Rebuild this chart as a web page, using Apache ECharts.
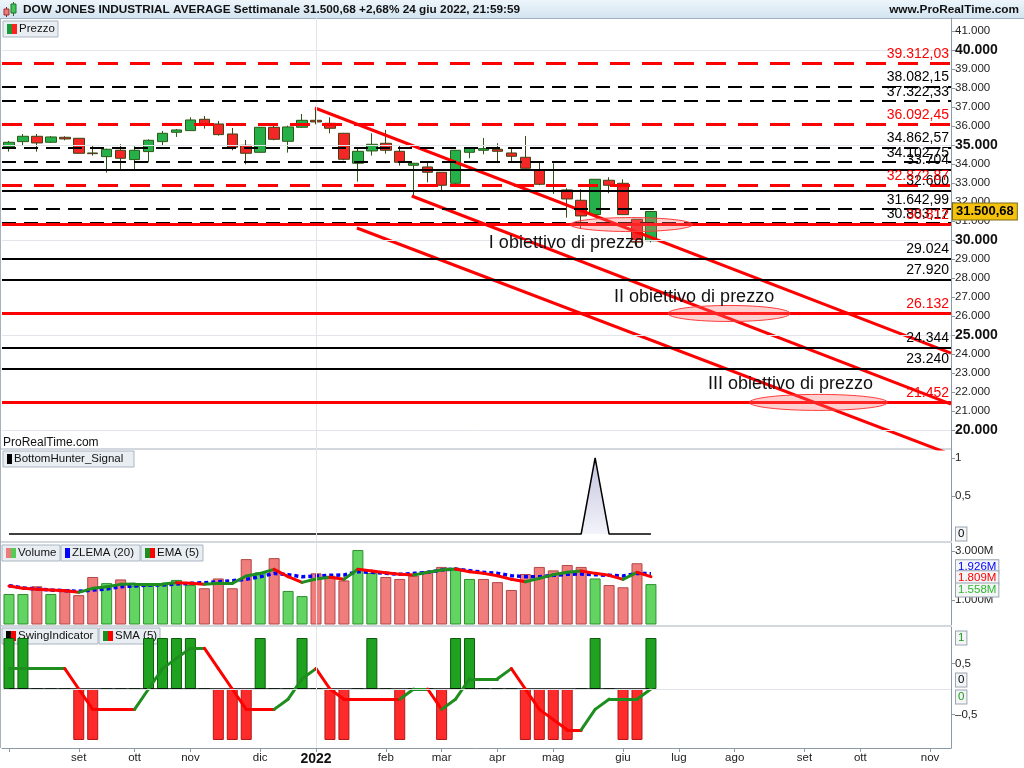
<!DOCTYPE html>
<html>
<head>
<meta charset="utf-8">
<script src="https://cdn.jsdelivr.net/npm/echarts@6.0.0/dist/echarts.min.js"></script>
<style>
html,body{margin:0;padding:0;background:#ffffff;}
#chart{width:1024px;height:768px;}
</style>
</head>
<body>
<div id="chart"></div>
<script>
// ================= DATA =================
const firstWeek = [2021, 7, 2];          // Monday 2 Aug 2021 (month 0-based)
const weekCount = 68;                     // weeks shown on the time axis
const monthNames = ['gen','feb','mar','apr','mag','giu','lug','ago','set','ott','nov','dic'];

const openP  = [34897,35178,35458,35143,35406,35353,34580,34388,34722,34231,34652,35178,35669,35757,36353,36107,35581,34985,34616,35932,35195,35932,36300,36142,35616,34038,34687,35090,34669,33932,33845,33564,32985,34616,34722,34774,34581,34353,33669,32898,32634,32091,31336,33143,32985,31090,29960];
const closeP = [35143,35458,35107,35423,35318,34564,34545,34774,34301,34722,35248,35616,35792,36318,36055,35546,34880,34564,35932,35300,35950,36300,36213,35880,34248,34669,35037,34722,34090,34038,33564,32880,34722,34827,34810,34669,34406,33774,32932,32910,32161,31266,33196,32880,31336,29888,31500.68];
const lowP   = [34652,34967,34652,35107,35248,34546,34441,33547,33739,33739,34090,34967,35423,35739,35862,35493,34722,33985,34599,35248,34599,35914,36090,35616,34196,33073,34441,34546,33915,32284,33038,32634,32898,34301,34511,34125,34090,33757,32880,32424,31178,30582,31336,32459,31336,29653,29880];
const highP  = [35213,35581,35581,35476,35458,35370,34950,34809,35037,34932,35300,35739,35844,36458,36528,36265,35897,35265,35950,36142,36020,36634,36967,36458,35634,34792,35616,35792,35002,34055,34160,33564,34739,34845,35371,35090,34792,35476,34090,34038,32722,32669,33196,33301,33196,31090,31530];

// volume in millions of shares
const volume = [1245,1245,1560,1245,1450,1200,1940,1690,1840,1580,1580,1640,1820,1610,1480,1880,1480,2670,2130,2710,1370,1160,2090,1990,1800,3040,2100,1940,1860,1990,2180,2350,2310,1860,1860,1730,1410,2060,2350,2210,2430,2350,1880,1610,1520,2500,1650];
const zlema20 = [1585,1490,1449,1408,1381,1354,1408,1449,1544,1571,1612,1612,1653,1680,1707,1748,1789,1844,1952,2088,2034,1952,1980,2007,2020,2156,2129,2088,2048,2088,2129,2224,2265,2197,2129,2088,1993,1952,1952,2007,2048,2061,2034,2007,1980,2088,2075];
const ema5 = [1571,1476,1435,1408,1381,1313,1476,1544,1639,1653,1653,1653,1707,1680,1639,1680,1680,1980,2088,2252,1952,1721,1857,1925,1844,2252,2184,2116,2048,2020,2129,2224,2265,2156,2088,1993,1844,1748,1884,2034,2129,2184,2088,2007,1844,2129,1952];
const volumeLastLabels = ['1.926M','1.809M','1.558M'];   // ZLEMA, EMA, Volume

const bottomHunter = [0,0,0,0,0,0,0,0,0,0, 0,0,0,0,0,0,0,0,0,0, 0,0,0,0,0,0,0,0,0,0, 0,0,0,0,0,0,0,0,0,0, 0,0,1,0,0,0,0];

const swing = [1,1,0,0,0,-1,-1,0,0,0, 1,1,1,1,0,-1,-1,-1,1,0, 0,1,0,-1,-1,0,1,0,-1,0, 0,-1,1,1,0,0,0,-1,-1,-1, -1,0,1,0,-1,-1,1];
const swingSma5 = [0.4,0.4,0.4,0.4,0.4,0,-0.4,-0.4,-0.4,-0.4, 0,0.4,0.6,0.8,0.8,0.4,0,-0.4,-0.4,-0.4, -0.2,0.2,0.4,0,-0.2,-0.2,-0.2,-0.2,-0.2,0, 0,-0.4,-0.2,0.2,0.2,0.2,0.4,0,-0.4,-0.6, -0.8,-0.8,-0.4,-0.2,-0.2,-0.2,0];

// horizontal levels
const fibRed    = [39312.03, 36092.45, 32872.87];
const fibBlack  = [38082.15, 37322.33, 34862.57, 34102.75, 31642.99, 30883.17];
const levelsBlack = [33704, 32600, 29024, 27920, 24344, 23240];
const targetsRed  = [30812, 26132, 21452];
const targetNames = ['I obiettivo di prezzo', 'II obiettivo di prezzo', 'III obiettivo di prezzo'];
const targetWeeks = [44.6, 51.6, 58.0];

// descending channel: [weekIndex, price] end points
const channelUpper  = [[21.93, 36947], [67.5, 24046]];
const channelMiddle = [[28.86, 32316], [67.5, 21361]];
const channelLower  = [[24.93, 30632], [67.5, 18712]];

const priceTicks = [20000,21000,22000,23000,24000,25000,26000,27000,28000,29000,30000,31000,32000,33000,34000,35000,36000,37000,38000,39000,40000,41000];
const priceGrid  = [20000,25000,30000,35000,40000];
const lastPriceLabel = '31.500,68';
const yearWeek = 22;   // first week of 2022
const titleText = 'DOW JONES INDUSTRIAL AVERAGE Settimanale 31.500,68 +2,68% 24 giu 2022, 21:59:59';

// ================= helpers =================
const FONT = '"Liberation Sans", Arial, sans-serif';
function fmtIt(v, dec) {
  const s = Math.abs(v).toFixed(dec);
  const p = s.split('.');
  const i = p[0].replace(/\B(?=(\d{3})+(?!\d))/g, '.');
  return (v < 0 ? '-' : '') + i + (p[1] ? ',' + p[1] : '');
}
const cats = [];
for (let i = 0; i < weekCount; i++) {
  const d = new Date(firstWeek[0], firstWeek[1], firstWeek[2] + 7 * i);
  cats.push(d.getFullYear() + '-' + (d.getMonth() + 1) + '-' + d.getDate());
}
const dayOf = v => +v.split('-')[2];

function colorSegments(vals, up, down) {
  const out = [];
  let prev = up;
  for (let i = 0; i < vals.length - 1; i++) {
    const d = vals[i + 1] - vals[i];
    const c = d > 0 ? up : (d < 0 ? down : prev);
    prev = c;
    out.push({ coords: [[i, vals[i]], [i + 1, vals[i + 1]]], lineStyle: { color: c } });
  }
  return out;
}

const L = 2, R = 73;
const grids = [
  { left: L, right: R, top: 18, height: 431 },
  { left: L, right: R, top: 449, height: 92 },
  { left: L, right: R, top: 543, height: 82 },
  { left: L, right: R, top: 627, height: 121 }
];
const axisGray = '#8c99a6';
const xAxes = [];
grids.forEach((g, gi) => {
  const last = gi === 3;
  xAxes.push({
    type: 'category', gridIndex: gi, data: cats, boundaryGap: true, position: 'bottom',
    axisLine: { show: last, onZero: false, lineStyle: { color: axisGray } },
    axisTick: { show: last, interval: (i, v) => dayOf(v) <= 7, alignWithLabel: true, length: 4, lineStyle: { color: axisGray } },
    axisLabel: {
      show: last, interval: (i, v) => i > 0 && dayOf(v) <= 7, margin: 4, color: '#222',
      formatter: v => { const p = v.split('-').map(Number); return p[1] === 1 ? '{y|' + p[0] + '}' : '{m|' + monthNames[p[1] - 1] + '}'; },
      rich: { y: { fontWeight: 'bold', fontSize: 14, fontFamily: FONT, color: '#111' }, m: { fontSize: 11.5, fontFamily: FONT, color: '#222' } }
    },
    splitLine: { show: false }
  });
  xAxes.push({ type: 'value', gridIndex: gi, min: -0.5, max: weekCount - 0.5, show: false, axisLine: { onZero: false }, splitLine: { show: false } });
});

const yCommon = {
  type: 'value', position: 'right', splitLine: { show: false },
  axisLine: { show: true, onZero: false, lineStyle: { color: axisGray } }
};
const yAxes = [
  Object.assign({}, yCommon, {
    gridIndex: 0, min: 19000, max: 41684,
    axisTick: { show: true, length: 4, customValues: priceTicks, lineStyle: { color: axisGray } },
    axisLabel: {
      customValues: priceTicks, margin: 4, color: '#222', fontSize: 11.5, fontFamily: FONT,
      formatter: v => v % 5000 === 0 ? '{b|' + fmtIt(v, 0) + '}' : fmtIt(v, 0),
      rich: { b: { fontWeight: 'bold', fontSize: 14, fontFamily: FONT, color: '#111' } }
    }
  }),
  Object.assign({}, yCommon, {
    gridIndex: 1, min: -0.092, max: 1.118,
    axisTick: { show: true, length: 4, customValues: [0.5, 1], lineStyle: { color: axisGray } },
    axisLabel: { customValues: [0.5, 1], margin: 4, color: '#222', fontSize: 11.5, fontFamily: FONT, formatter: v => fmtIt(v, v % 1 ? 1 : 0) }
  }),
  Object.assign({}, yCommon, {
    gridIndex: 2, min: -20, max: 3327,
    axisTick: { show: true, length: 4, customValues: [1000, 3000], lineStyle: { color: axisGray } },
    axisLabel: { customValues: [1000, 3000], margin: 4, color: '#222', fontSize: 11.5, fontFamily: FONT, formatter: v => fmtIt(v, 0) + 'M' }
  }),
  Object.assign({}, yCommon, {
    gridIndex: 3, min: -1.157, max: 1.216,
    axisTick: { show: true, length: 4, customValues: [-0.5, 0.5], lineStyle: { color: axisGray } },
    axisLabel: { customValues: [-0.5, 0.5], margin: 4, color: '#222', fontSize: 11.5, fontFamily: FONT, formatter: v => (v < 0 ? '\u2013' : '') + fmtIt(Math.abs(v), 1) }
  })
];

// ---- level lines
const hLine = (v, color, width, type, text) => ({
  yAxis: v, lineStyle: { color: color, width: width, type: type },
  label: { show: true, formatter: text, color: color, position: 'insideEndTop', fontSize: 14, fontFamily: FONT, distance: 2 }
});
const gridLineStyle = { color: '#e2e6eb', width: 1, type: 'solid' };
const levelData = []
  .concat(priceGrid.map(v => ({ yAxis: v, lineStyle: gridLineStyle, label: { show: false } })))
  .concat([{ xAxis: yearWeek, lineStyle: gridLineStyle, label: { show: false } }])
  .concat(fibBlack.map(v => hLine(v, '#000000', 2, [14, 8], fmtIt(v, 2))))
  .concat(levelsBlack.map(v => hLine(v, '#000000', 2, 'solid', fmtIt(v, 0))))
  .concat(fibRed.map(v => hLine(v, '#ff0000', 3, [20, 12], fmtIt(v, 2))))
  .concat(targetsRed.map(v => hLine(v, '#ff0000', 3, 'solid', fmtIt(v, 0))));

const valueBox = (color) => ({
  show: true, position: 'end', distance: 5, color: color, fontSize: 11.5, fontFamily: FONT,
  backgroundColor: '#f3f5f7', borderColor: '#9aa5b0', borderWidth: 1, padding: [1, 2, 0, 2]
});
const noLine = { color: 'rgba(0,0,0,0)', width: 1, type: 'solid' };
const vLine = { xAxis: yearWeek, lineStyle: gridLineStyle, label: { show: false } };

const volColors = volume.map((v, i) => (i === 0 ? closeP[0] >= openP[0] : closeP[i] >= closeP[i - 1]));

const ellipseSize = [[61, 7], [61, 8], [69, 8]];
const textOffset = [[-65, 18], [-35, -16], [-28, -18]];

const series = [
  // ---------- main price panel
  {
    type: 'candlestick', xAxisIndex: 0, yAxisIndex: 0, z: 2, barWidth: 11,
    data: openP.map((o, i) => [o, closeP[i], lowP[i], highP[i]]),
    itemStyle: { color: '#25b04a', color0: '#f52626', borderColor: '#2a5a16', borderColor0: '#3e4414', borderWidth: 1 }
  },
  {
    type: 'line', xAxisIndex: 1, yAxisIndex: 0, data: [], z: 3,
    markLine: { symbol: ['none', 'none'], silent: true, animation: false, data: levelData }
  },
  ...[channelUpper, channelMiddle, channelLower].map(d => ({
    type: 'line', xAxisIndex: 1, yAxisIndex: 0, data: d, z: 4, symbol: 'none', clip: true,
    lineStyle: { color: '#ff0000', width: 3 }
  })),
  {
    type: 'custom', xAxisIndex: 1, yAxisIndex: 0, z: 5, clip: false,
    data: targetWeeks.map((w, k) => [w, targetsRed[k], k]),
    renderItem: (params, api) => {
      const c = api.coord([api.value(0), api.value(1)]);
      const k = api.value(2);
      const rx = ellipseSize[k][0], ry = ellipseSize[k][1];
      const pts = [];
      for (let a = 0; a < 64; a++) { const t = a / 64 * Math.PI * 2; pts.push([c[0] + rx * Math.cos(t), c[1] + ry * Math.sin(t)]); }
      return {
        type: 'group', children: [
          { type: 'polygon', shape: { points: pts }, style: { fill: 'rgba(255,110,110,0.32)', stroke: '#ff3b3b', lineWidth: 1 } },
          { type: 'text', x: c[0] + textOffset[k][0], y: c[1] + textOffset[k][1],
            style: { text: targetNames[k], fill: '#111', font: '18px ' + FONT, align: 'center', verticalAlign: 'middle' } }
        ]
      };
    }
  },
  {
    type: 'line', xAxisIndex: 1, yAxisIndex: 0, data: [], z: 6,
    markLine: { symbol: ['none', 'none'], silent: true, animation: false,
      data: [{ yAxis: closeP[closeP.length - 1], lineStyle: noLine,
        label: { show: true, position: 'end', distance: 2, formatter: lastPriceLabel, color: '#000', fontWeight: 'bold', fontSize: 13, fontFamily: FONT,
          backgroundColor: '#f4c20d', borderColor: '#7a6a1a', borderWidth: 1, padding: [2, 3, 1, 3] } }] }
  },
  // ---------- BottomHunter panel
  {
    type: 'line', xAxisIndex: 2, yAxisIndex: 1, data: bottomHunter, symbol: 'none',
    lineStyle: { color: '#000', width: 1.5 },
    areaStyle: { color: new echarts.graphic.LinearGradient(0, 0, 0, 1, [{ offset: 0, color: '#aaaad2' }, { offset: 1, color: '#eeeef8' }]) },
    markLine: { symbol: ['none', 'none'], silent: true, animation: false,
      data: [vLine, { yAxis: 0, lineStyle: noLine, label: Object.assign(valueBox('#000'), { formatter: '0' }) }] }
  },
  // ---------- Volume panel
  {
    type: 'bar', xAxisIndex: 4, yAxisIndex: 2, barWidth: 11,
    data: volume.map((v, i) => ({ value: v, itemStyle: volColors[i]
      ? { color: '#62d462', borderColor: '#2f8f2f', borderWidth: 1 }
      : { color: '#f07c7c', borderColor: '#b04848', borderWidth: 1 } })),
    markLine: { symbol: ['none', 'none'], silent: true, animation: false, data: [vLine] }
  },
  {
    type: 'line', xAxisIndex: 4, yAxisIndex: 2, data: zlema20, symbol: 'none', z: 3,
    lineStyle: { color: '#0000ff', width: 3.5, type: [4, 3] }
  },
  {
    type: 'lines', coordinateSystem: 'cartesian2d', xAxisIndex: 5, yAxisIndex: 2, z: 4, polyline: false,
    lineStyle: { width: 3, opacity: 1, cap: 'round' },
    data: colorSegments(ema5, '#1e8e1e', '#ff0000')
  },
  {
    type: 'line', xAxisIndex: 5, yAxisIndex: 2, data: [], z: 6,
    markLine: { symbol: ['none', 'none'], silent: true, animation: false,
      data: [
        { yAxis: zlema20[zlema20.length - 1], lineStyle: noLine, label: Object.assign(valueBox('#0000ff'), { formatter: volumeLastLabels[0], offset: [0, -7] }) },
        { yAxis: ema5[ema5.length - 1], lineStyle: noLine, label: Object.assign(valueBox('#ff0000'), { formatter: volumeLastLabels[1], offset: [0, 1] }) },
        { yAxis: volume[volume.length - 1], lineStyle: noLine, label: Object.assign(valueBox('#2fb82f'), { formatter: volumeLastLabels[2], offset: [0, 6] }) }
      ] }
  },
  // ---------- Swing panel
  {
    type: 'bar', xAxisIndex: 6, yAxisIndex: 3, barWidth: 11,
    data: swing.map(v => ({ value: v, itemStyle: v >= 0
      ? { color: '#1fa21f', borderColor: '#0d5a0d', borderWidth: 1 }
      : { color: '#ff2b2b', borderColor: '#b01818', borderWidth: 1 } })),
    markLine: { symbol: ['none', 'none'], silent: true, animation: false,
      data: [vLine, { yAxis: 0, lineStyle: { color: '#dfe3e8', width: 1, type: 'solid' }, label: { show: false } }] }
  },
  {
    type: 'line', xAxisIndex: 6, yAxisIndex: 3, data: swing.map(() => 0), symbol: 'none', z: 3,
    lineStyle: { color: '#000', width: 1.5 }
  },
  {
    type: 'lines', coordinateSystem: 'cartesian2d', xAxisIndex: 7, yAxisIndex: 3, z: 4, polyline: false,
    lineStyle: { width: 3, opacity: 1, cap: 'round' },
    data: colorSegments(swingSma5, '#1e8e1e', '#ff0000')
  },
  {
    type: 'line', xAxisIndex: 7, yAxisIndex: 3, data: [], z: 6,
    markLine: { symbol: ['none', 'none'], silent: true, animation: false,
      data: [
        { yAxis: swing[swing.length - 1], lineStyle: noLine, label: Object.assign(valueBox('#1a9a1a'), { formatter: String(swing[swing.length - 1]) }) },
        { yAxis: 0, lineStyle: noLine, label: Object.assign(valueBox('#000'), { formatter: '0', offset: [0, -9] }) },
        { yAxis: swingSma5[swingSma5.length - 1], lineStyle: noLine, label: Object.assign(valueBox('#1a9a1a'), { formatter: fmtIt(swingSma5[swingSma5.length - 1], 0), offset: [0, 8] }) }
      ] }
  }
];

// ---------- decorations (title bar, legend boxes, separators)
const legendBox = (x, y, w, text, icon) => ({
  type: 'group', children: [
    { type: 'rect', shape: { x: x, y: y, width: w, height: 16 }, style: { fill: '#e9eef3', stroke: '#a9b5c1', lineWidth: 1 } },
    ...icon.map((c, j) => ({ type: 'rect', shape: { x: x + 4 + j * 5, y: y + 3, width: 5, height: 10 }, style: { fill: c } })),
    { type: 'text', x: x + 6 + icon.length * 5, y: y + 8, style: { text: text, font: '11.5px ' + FONT, fill: '#111', verticalAlign: 'middle' } }
  ]
});
const graphics = [
  { type: 'rect', shape: { x: 0, y: 0, width: 1024, height: 18 },
    style: { fill: new echarts.graphic.LinearGradient(0, 0, 0, 1, [{ offset: 0, color: '#edf5fb' }, { offset: 1, color: '#d3e4f0' }]) } },
  { type: 'line', shape: { x1: 0, y1: 18.5, x2: 1024, y2: 18.5 }, style: { stroke: '#9fb2c3', lineWidth: 1 } },
  // title icon (two little candles)
  { type: 'line', shape: { x1: 6.5, y1: 7, x2: 6.5, y2: 17 }, style: { stroke: '#7a2a2a', lineWidth: 1 } },
  { type: 'rect', shape: { x: 4, y: 9, width: 5, height: 6 }, style: { fill: '#f07a7a', stroke: '#9a3030', lineWidth: 1 } },
  { type: 'line', shape: { x1: 13.5, y1: 2, x2: 13.5, y2: 16 }, style: { stroke: '#2a6a2a', lineWidth: 1 } },
  { type: 'rect', shape: { x: 11, y: 4, width: 5, height: 9 }, style: { fill: '#3cc85a', stroke: '#2a6a2a', lineWidth: 1 } },
  { type: 'text', x: 23, y: 10, style: { text: titleText, font: 'bold 11.8px ' + FONT, fill: '#111', verticalAlign: 'middle' } },
  { type: 'text', x: 1019, y: 10, style: { text: 'www.ProRealTime.com', font: 'bold 11.8px ' + FONT, fill: '#111', align: 'right', verticalAlign: 'middle' } },
  // separators
  { type: 'line', shape: { x1: 0.5, y1: 18, x2: 0.5, y2: 748 }, style: { stroke: '#a6b1bc', lineWidth: 1 } },
  { type: 'line', shape: { x1: 0, y1: 449, x2: 951, y2: 449 }, style: { stroke: '#a6b1bc', lineWidth: 1 } },
  { type: 'line', shape: { x1: 0, y1: 542, x2: 951, y2: 542 }, style: { stroke: '#a6b1bc', lineWidth: 1 } },
  { type: 'line', shape: { x1: 0, y1: 626, x2: 951, y2: 626 }, style: { stroke: '#a6b1bc', lineWidth: 1 } },
  { type: 'text', x: 3, y: 443, style: { text: 'ProRealTime.com', font: '12px ' + FONT, fill: '#111', verticalAlign: 'middle' } },
  legendBox(3, 21, 55, 'Prezzo', ['#1c9a3a', '#ff2020']),
  legendBox(3, 451, 131, 'BottomHunter_Signal', ['#000000']),
  legendBox(2, 545, 58, 'Volume', ['#f07a7a', '#55cc55']),
  legendBox(61, 545, 79, 'ZLEMA (20)', ['#0000ff']),
  legendBox(141, 545, 62, 'EMA (5)', ['#1e8e1e', '#ff0000']),
  legendBox(2, 628, 96, 'SwingIndicator', ['#000000', '#ff0000']),
  legendBox(99, 628, 61, 'SMA (5)', ['#1e8e1e', '#ff0000'])
];

const chart = echarts.init(document.getElementById('chart'), null, { renderer: 'canvas' });
chart.setOption({
  animation: false,
  backgroundColor: '#ffffff',
  textStyle: { fontFamily: FONT },
  grid: grids,
  xAxis: xAxes,
  yAxis: yAxes,
  series: series,
  graphic: { elements: graphics }
});
</script>
</body>
</html>
